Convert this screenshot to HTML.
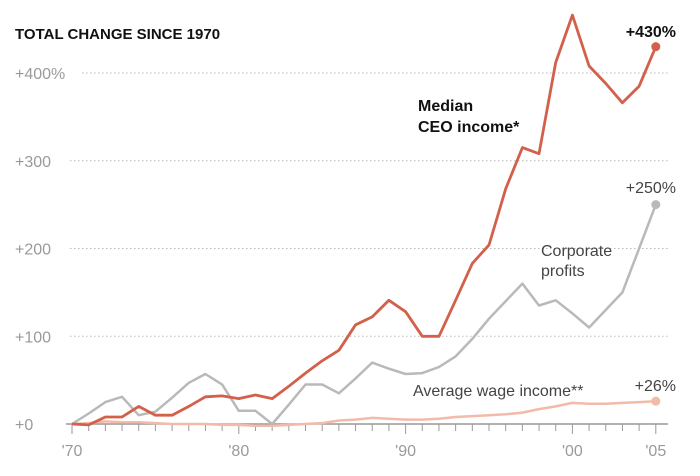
<!DOCTYPE html>
<html><head><meta charset="utf-8"><style>
body{margin:0;background:#fff;}
svg{display:block;font-family:"Liberation Sans",sans-serif;}
</style></head><body>
<svg id="chart" width="700" height="476">
<text x="15" y="39" font-size="15" font-weight="bold" fill="#111">TOTAL CHANGE SINCE 1970</text>
<g id="grid"></g><g id="axis"></g><g id="lines"></g><g id="labels"></g>
</svg>
<script>
const years = [1970,1971,1972,1973,1974,1975,1976,1977,1978,1979,1980,1981,1982,1983,1984,1985,1986,1987,1988,1989,1990,1991,1992,1993,1994,1995,1996,1997,1998,1999,2000,2001,2002,2003,2004,2005];
const ceoValues = [0,-1,8,8,20,10,10,20,31,32,29,33,29,43,58,72,84,113,122,141,128,100,100,141,183,204,268,315,308,412,466,408,388,366,385,430];
const profitValues = [0,12,25,31,10,14,30,47,57,45,15,15,0,22,45,45,35,52,70,63,57,58,65,77,97,120,140,160,135,141,126,110,130,150,200,250];
const wageValues = [0,1,3,2,2,1,0,0,0,-1,-1,-2,-2,-1,0,1,4,5,7,6,5,5,6,8,9,10,11,13,17,20,24,23,23,24,25,26];
const yTicks = [0,100,200,300,400];
const yTickLabels = ["+0","+100","+200","+300","+400%"];
const xTicks = [1970,1980,1990,2000,2005];
const xTickLabels = ["'70","'80","'90","'00","'05"];

const NS="http://www.w3.org/2000/svg";
const x = yr => 72 + (yr-1970)*16.68;
const y = v => 424 - v*0.8775;
function mk(tag,attrs,parent){const e=document.createElementNS(NS,tag);for(const k in attrs)e.setAttribute(k,attrs[k]);parent.appendChild(e);return e;}
const grid=document.getElementById('grid'),axis=document.getElementById('axis'),lines=document.getElementById('lines'),labels=document.getElementById('labels');

yTicks.forEach((t,i)=>{
  const lbl=yTickLabels[i];
  const tx=mk('text',{x:15,y:y(t)+6,'font-size':16,fill:'#9a9a9a'},grid);
  tx.textContent=lbl;
  
  
  if(t>0){
    const startX = lbl.length>4?82:70;
    const ln=mk('line',{x1:startX,x2:668,y1:y(t),y2:y(t),stroke:'#bbb','stroke-width':1,'stroke-dasharray':'1.5,2.5'},grid);
    
    
  }
});
const base=mk('line',{x1:66,x2:668,y1:424,y2:424,stroke:'#999','stroke-width':1.5},axis);


years.forEach(yr=>{
  const major=xTicks.includes(yr);
  const tk=mk('line',{x1:x(yr),x2:x(yr),y1:424,y2:major?434:431,stroke:'#999','stroke-width':1},axis);
  
  
});
xTicks.forEach((t,i)=>{
  const tx=mk('text',{x:x(t),y:456,'font-size':16,fill:'#9a9a9a','text-anchor':'middle'},axis);
  tx.textContent=xTickLabels[i];
  
  
});
function series(vals,color,w,name){
  const d=vals.map((v,i)=>(i?'L':'M')+x(years[i]).toFixed(1)+','+y(v).toFixed(1)).join(' ');
  const p=mk('path',{d:d,fill:'none',stroke:color,'stroke-width':w,'stroke-linejoin':'round'},lines);
  
  
  const n=vals.length-1;
  const c=mk('circle',{cx:x(years[n]),cy:y(vals[n]),r:4.5,fill:color},lines);
  
  
}
series(wageValues,'#f2bba9',2.5,'wage');
series(profitValues,'#b9b9b9',2.5,'profits');
series(ceoValues,'#d2604b',2.8,'ceo');

function label(txt,xx,yy,opts,name){
  const t=mk('text',Object.assign({x:xx,y:yy,'font-size':16},opts),labels);
  t.textContent=txt;
  
  
}
label('+430%',676,37,{'font-weight':'bold','text-anchor':'end',fill:'#111'},'ceo-end-label');
label('Median',418,111,{'font-weight':'bold',fill:'#111'},'ceo-series-label');
label('CEO income*',418,132,{'font-weight':'bold',fill:'#111'},'ceo-series-label-2');
label('+250%',676,193,{'text-anchor':'end',fill:'#444'},'profits-end-label');
label('Corporate',541,256,{fill:'#444'},'profits-series-label');
label('profits',541,276,{fill:'#444'},'profits-series-label-2');
label('Average wage income**',413,396,{fill:'#444'},'wage-series-label');
label('+26%',676,391,{'text-anchor':'end',fill:'#444'},'wage-end-label');
</script>
</body></html>
